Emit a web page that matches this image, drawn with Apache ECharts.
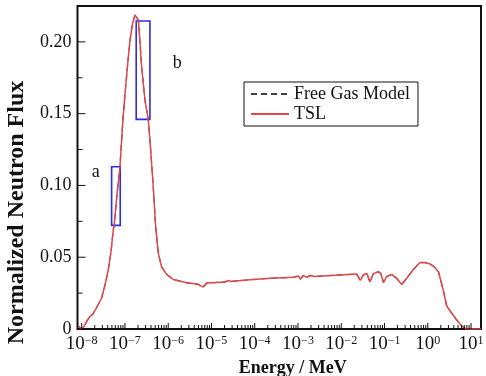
<!DOCTYPE html>
<html lang="en">
<head>
<meta charset="UTF-8">
<title>Normalized Neutron Flux</title>
<script src="https://cdn.jsdelivr.net/npm/echarts@6/dist/echarts.min.js"></script>
<style>
    html, body { margin: 0; padding: 0; background: #fff; }
    #main { width: 486px; height: 376px; }
</style>
</head>
<body>
<div id="main"></div>
<script type="text/javascript">
    // energies in MeV, flux
    var energy = [8.4e-9, 9.6e-9, 1.13e-8, 1.32e-8, 1.55e-8, 1.82e-8, 2.02e-8, 2.38e-8, 2.89e-8, 3.45e-8,
        4.11e-8, 4.75e-8, 5.28e-8, 5.72e-8, 6.53e-8, 7.66e-8, 8.99e-8, 1.0e-7, 1.14e-7, 1.31e-7,
        1.49e-7, 1.70e-7, 1.85e-7, 2.05e-7, 2.43e-7, 2.90e-7, 3.46e-7, 3.93e-7, 4.51e-7, 5.13e-7,
        5.89e-7, 7.06e-7, 9.21e-7, 1.31e-6, 2.67e-6, 4.95e-6, 6.46e-6, 7.74e-6, 2.05e-5, 2.45e-5,
        2.82e-5, 6.52e-5, 2.25e-4, 7.79e-4, 1.02e-3, 1.14e-3, 1.33e-3, 1.59e-3, 1.89e-3, 2.47e-3,
        3.59e-3, 2.28e-2, 2.51e-2, 2.75e-2, 3.23e-2, 3.88e-2, 4.62e-2, 5.51e-2, 7.19e-2, 8.17e-2,
        9.48e-2, 0.112, 0.147, 0.191, 0.250, 0.326, 0.463, 0.662, 0.864, 1.13,
        1.39, 1.77, 2.25, 2.74, 3.36, 4.67, 6.10, 7.67, 17];
    var tslFlux = [0.0021, 0.0003, 0.0017, 0.0056, 0.0087, 0.0104, 0.0115, 0.0167, 0.0216, 0.0306,
        0.0411, 0.0536, 0.0669, 0.0745, 0.0933, 0.1128, 0.1462, 0.1630, 0.1825, 0.2013,
        0.2124, 0.2187, 0.2194, 0.2152, 0.1827, 0.1595, 0.1462, 0.1247, 0.0989, 0.0712,
        0.0527, 0.0432, 0.0380, 0.0345, 0.0322, 0.0311, 0.0292, 0.0320, 0.0327, 0.0338,
        0.0331, 0.0341, 0.0353, 0.0360, 0.0369, 0.0348, 0.0373, 0.0359, 0.0373, 0.0366,
        0.0369, 0.0383, 0.0386, 0.0338, 0.0376, 0.0388, 0.0327, 0.0386, 0.0399, 0.0388,
        0.0324, 0.0366, 0.0380, 0.0353, 0.0310, 0.0353, 0.0414, 0.0463, 0.0463, 0.0453,
        0.0435, 0.0397, 0.0279, 0.0160, 0.0122, 0.0063, 0.0021, 0, 0];
    // free gas curve lies under the TSL curve everywhere in the figure
    var fgmFlux = tslFlux.slice();

    var decades = [-8, -7, -6, -5, -4, -3, -2, -1, 0, 1];
    var yMajor = [0, 0.05, 0.1, 0.15, 0.2];
    var yMinor = [0.025, 0.075, 0.125, 0.175];

    var xMin = Math.log10(8e-9), xMax = Math.log10(17);
    var yMin = 0, yMax = 0.225;
    var xMinor = [];
    decades.slice(0, -1).forEach(function (d) {
        for (var k = 2; k <= 9; k++) xMinor.push(d + Math.log10(k));
    });

    var serif = 'Liberation Serif';
    var ink = '#111';
    var noLine = {show: false, onZero: false};

    // inward tick marks, placed through the axes' own scales
    function tickSeries(values, dim, len) {
        return {
            type: 'custom', silent: true, z: 5,
            data: values.map(function (v) { return dim === 'x' ? [v, yMin] : [xMin, v]; }),
            renderItem: function (params, api) {
                var p = api.coord([api.value(0), api.value(1)]);
                var q = dim === 'x' ? [p[0], p[1] - len] : [p[0] + len, p[1]];
                return {type: 'line', shape: {x1: p[0], y1: p[1], x2: q[0], y2: q[1]},
                    style: {stroke: ink, lineWidth: 1}};
            }
        };
    }

    function toPts(flux) {
        return energy.map(function (e, i) { return [Math.log10(e), flux[i]]; });
    }

    var myChart = echarts.init(document.getElementById('main'));
    myChart.setOption({
        animation: false,
        grid: {left: 77.5, right: 5, top: 6, bottom: 47, show: true, borderColor: ink, borderWidth: 2,
            outerBoundsMode: 'none'},
        legend: {
            data: ['Free Gas Model', 'TSL'], orient: 'vertical', left: 244, top: 82,
            itemWidth: 38, itemHeight: 14, itemGap: 2, padding: [3, 8, 3, 6],
            borderColor: ink, borderWidth: 1, itemStyle: {opacity: 0},
            textStyle: {fontFamily: serif, fontSize: 18, color: ink}
        },
        xAxis: {
            type: 'value', min: xMin, max: xMax, position: 'bottom',
            axisLine: noLine, splitLine: {show: false}, axisTick: {show: false},
            axisLabel: {
                customValues: decades, margin: 6,
                formatter: function (v) { return '{b|10}{s|' + String(v).replace('-', '\u2212') + '}'; },
                rich: {
                    b: {fontFamily: serif, fontSize: 19, color: ink},
                    s: {fontFamily: serif, fontSize: 12, color: ink, verticalAlign: 'top'}
                }
            },
            name: 'Energy / MeV', nameLocation: 'middle', nameGap: 16,
            nameTextStyle: {fontFamily: serif, fontSize: 18, fontWeight: 'bold', color: ink, padding: [0, 0, 0, 27]}
        },
        yAxis: {
            type: 'value', min: yMin, max: yMax, position: 'left',
            axisLine: noLine, splitLine: {show: false}, axisTick: {show: false},
            axisLabel: {
                customValues: yMajor, margin: 6, fontFamily: serif, fontSize: 18, color: ink,
                formatter: function (v) { return v === 0 ? '0' : v.toFixed(2); }
            },
            name: 'Normalized Neutron Flux', nameLocation: 'middle', nameGap: 41,
            nameTextStyle: {fontFamily: serif, fontSize: 24, fontWeight: 'bold', color: ink, padding: [0, 90, 0, 0]}
        },
        series: [
            tickSeries(decades, 'x', 6),
            tickSeries(xMinor, 'x', 4),
            tickSeries(yMajor, 'y', 8),
            tickSeries(yMinor, 'y', 5),
            {
                name: 'Free Gas Model', type: 'line', symbol: 'none', data: toPts(fgmFlux),
                lineStyle: {color: '#444', width: 1.2, type: [6, 4]}, itemStyle: {color: '#444'}
            }, {
                name: 'TSL', type: 'line', symbol: 'none', data: toPts(tslFlux),
                lineStyle: {color: '#e0474c', width: 1.5}, itemStyle: {color: '#e0474c'},
                markArea: {
                    silent: true,
                    itemStyle: {color: 'rgba(0,0,0,0)', borderColor: '#2b2be8', borderWidth: 1.6},
                    data: [
                        [{coord: [Math.log10(4.92e-8), 0.0722]}, {coord: [Math.log10(7.78e-8), 0.113]}],
                        [{coord: [Math.log10(1.82e-7), 0.146]}, {coord: [Math.log10(3.78e-7), 0.2145]}]
                    ]
                },
                markPoint: {
                    silent: true, symbol: 'circle', symbolSize: 0,
                    label: {show: true, position: 'inside', formatter: '{b}', fontFamily: serif, fontSize: 18, color: ink},
                    data: [
                        {name: 'a', coord: [Math.log10(2.1e-8), 0.1095]},
                        {name: 'b', coord: [Math.log10(1.62e-6), 0.1854]}
                    ]
                }
            }
        ]
    });
</script>
</body>
</html>
